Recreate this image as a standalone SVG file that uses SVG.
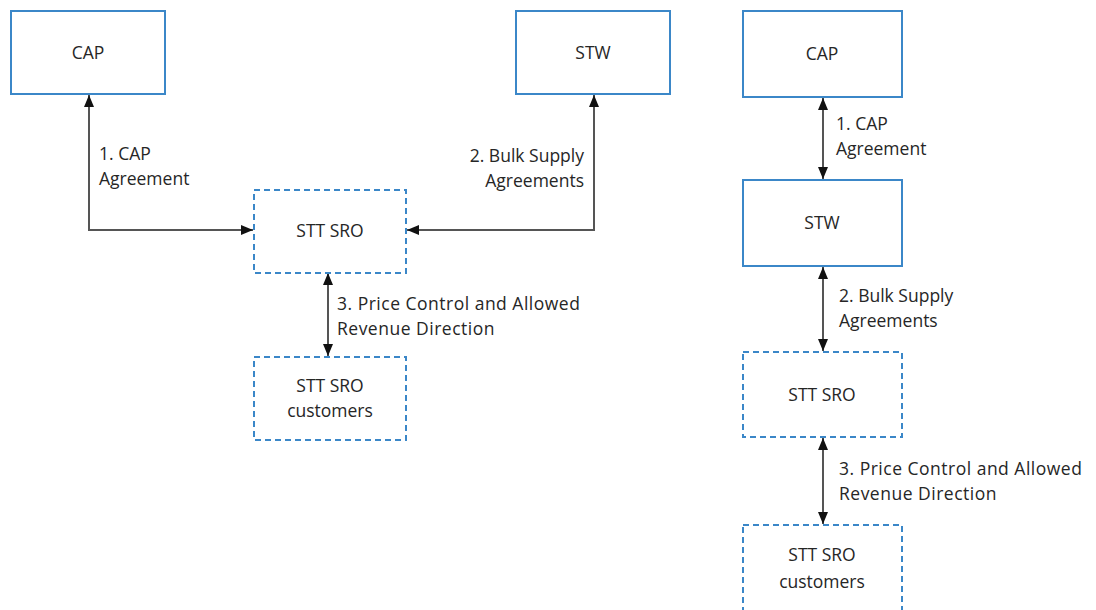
<svg xmlns="http://www.w3.org/2000/svg" width="1096" height="610" viewBox="0 0 1096 610">
<defs>
<marker id="ah" viewBox="0 0 12 10" refX="12" refY="5" markerWidth="12" markerHeight="10" markerUnits="userSpaceOnUse" orient="auto-start-reverse">
<path d="M0,0 L12,5 L0,10 Z" fill="#111"/>
</marker>
<style>
.box{fill:#fff;stroke:#3b87c8;stroke-width:2}
.dbox{fill:#fff;stroke:#3b87c8;stroke-width:2;stroke-dasharray:6,4}
.t{font-family:"Open Sans","Liberation Sans",sans-serif;font-size:17.5px;fill:#262626}
.w{letter-spacing:0.5px}
.c{text-anchor:middle}
.conn{fill:none;stroke:#555;stroke-width:2;marker-start:url(#ah);marker-end:url(#ah)}
</style>
</defs>
<rect width="1096" height="610" fill="#fff"/>
<g id="connectors">
<path class="conn" d="M89,95 V230 H253"/>
<path class="conn" d="M594,95 V230 H407"/>
<path class="conn" d="M328,273 V356"/>
<path class="conn" d="M823,98 V179"/>
<path class="conn" d="M823,267 V351"/>
<path class="conn" d="M823,438 V524"/>
</g>
<g id="labels">
<text class="t" x="99" y="160">1. CAP</text>
<text class="t" x="99" y="185">Agreement</text>
<text class="t" x="584" y="162" text-anchor="end">2. Bulk Supply</text>
<text class="t" x="584" y="187" text-anchor="end">Agreements</text>
<text class="t w" x="337" y="310">3. Price Control and Allowed</text>
<text class="t w" x="337" y="335">Revenue  Direction</text>
<text class="t" x="836" y="130">1. CAP</text>
<text class="t" x="836" y="155">Agreement</text>
<text class="t" x="839" y="302">2. Bulk Supply</text>
<text class="t" x="839" y="327">Agreements</text>
<text class="t w" x="839" y="475">3. Price Control and Allowed</text>
<text class="t w" x="839" y="500">Revenue  Direction</text>
</g>
<g id="cap1"><rect class="box" x="11" y="11" width="154" height="83"/><text class="t c" x="88" y="59">CAP</text></g>
<g id="stw1"><rect class="box" x="516" y="11" width="154" height="83"/><text class="t c" x="593" y="59">STW</text></g>
<g id="sro1"><rect class="dbox" x="254" y="190" width="152" height="83"/><text class="t c" x="330" y="237">STT SRO</text></g>
<g id="cust1"><rect class="dbox" x="254" y="357" width="152" height="83"/><text class="t c" x="330" y="392">STT SRO</text><text class="t c" x="330" y="417">customers</text></g>
<g id="cap2"><rect class="box" x="743" y="11" width="159" height="86"/><text class="t c" x="822" y="60">CAP</text></g>
<g id="stw2"><rect class="box" x="743" y="180" width="159" height="86"/><text class="t c" x="822" y="229">STW</text></g>
<g id="sro2"><rect class="dbox" x="743" y="352" width="159" height="85"/><text class="t c" x="822" y="401">STT SRO</text></g>
<g id="cust2"><rect class="dbox" x="743" y="525" width="159" height="100"/><text class="t c" x="822" y="561">STT SRO</text><text class="t c" x="822" y="588">customers</text></g>
</svg>
